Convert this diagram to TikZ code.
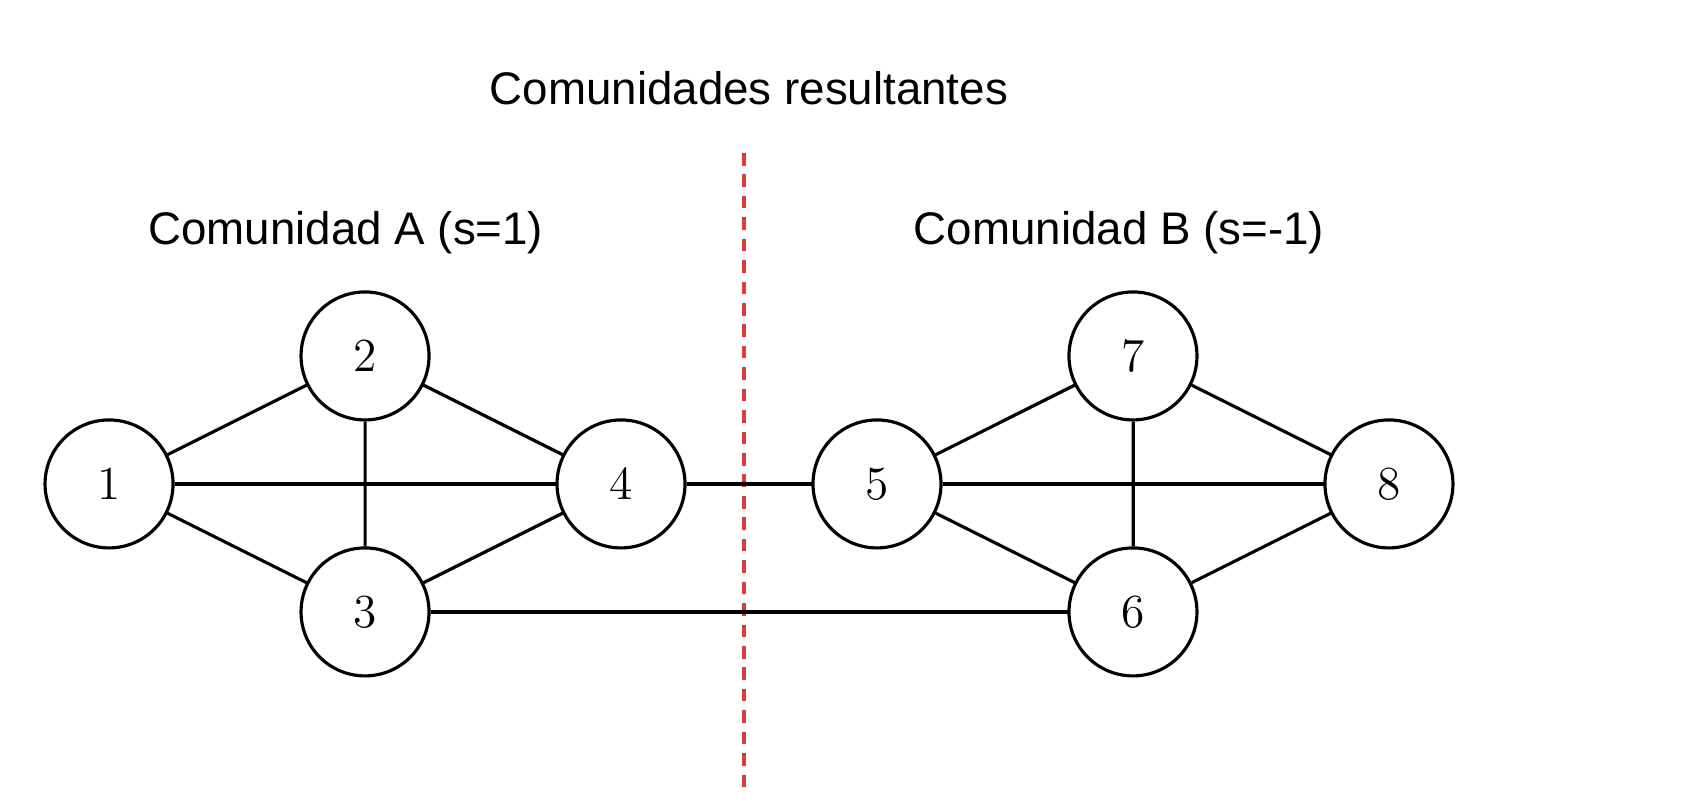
\documentclass[tikz,border=0pt]{standalone}
\usepackage{fontspec}
\setmainfont{Liberation Sans}
\newfontfamily\numfont{Latin Modern Roman}
\definecolor{cutred}{RGB}{214,60,60}
\begin{document}
\begin{tikzpicture}[scale=1.28,
		vertex/.style={draw, circle, line width=0.9pt, minimum size=1.28cm, inner sep=0pt, font=\numfont\fontsize{13.5}{15}\selectfont},
		link/.style={line width=0.9pt},
		heading/.style={font=\fontsize{13}{15}\selectfont}]
				\fill[white] (-0.852,-2.531) rectangle (12.352,3.781);
				\useasboundingbox (-0.852,-2.531) rectangle (12.352,3.781);
				\draw (5,3.09) node[heading] (title) {Comunidades resultantes};
				\draw (1.85,1.96) node[heading] (labA) {Comunidad A (s=1)};
				\draw (7.89,1.96) node[heading] (labB) {Comunidad B (s=-1)};
				\coordinate (cuttop) at (4.96,2.586);
				\coordinate (cutbot) at (4.96,-2.383);
				\draw[cutred, line width=1pt, dash pattern=on 3.6pt off 2.5pt] (cuttop) -- (cutbot);
				\draw (0,0) node[vertex] (1) {1};
				\draw (2,1) node[vertex] (2) {2};
				\draw (2,-1) node[vertex] (3) {3};
				\draw (4,0) node[vertex] (4) {4};
				\draw (6,0) node[vertex] (5) {5};
				\draw (8,-1) node[vertex] (6) {6};
				\draw (8,1) node[vertex] (7) {7};
				\draw (10,0) node[vertex] (8) {8};
				\draw[link] (1) -- (2);
				\draw[link] (1) -- (4);
				\draw[link] (1) -- (3);
				\draw[link] (2) -- (4);
				\draw[link] (2) -- (3);
				\draw[link] (3) -- (4);
				\draw[link] (3) -- (6);
				\draw[link] (4) -- (5);
				\draw[link] (5) -- (7);
				\draw[link] (5) -- (8);
				\draw[link] (5) -- (6);
				\draw[link] (7) -- (8);
				\draw[link] (7) -- (6);
				\draw[link] (6) -- (8);
			\end{tikzpicture}
\end{document}
